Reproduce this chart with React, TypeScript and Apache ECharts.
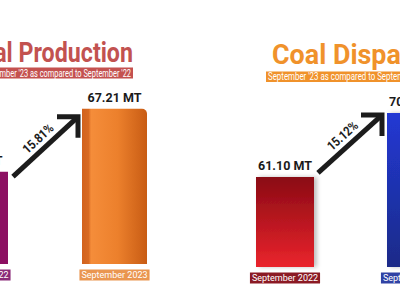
import React, { useEffect, useRef } from "react";
import * as echarts from "echarts";

const categories = ["September 2022", "September 2023"];
const productionValues = [58.04, 67.21];
const dispatchValues = [61.1, 70.34];
const productionGrowth = "15.81%";
const dispatchGrowth = "15.12%";
const productionTitle = "Coal Production";
const dispatchTitle = "Coal Dispatch";
const subtitleText = "September '23 as compared to September '22";

const FONT = "Roboto, 'Liberation Sans', sans-serif";

export default function App() {
  const ref = useRef<HTMLDivElement>(null);
  useEffect(() => {
    document.body.style.margin = "0";
    const chart = echarts.init(ref.current!, null, { renderer: "svg" });

    const labelStyle = (bg: string) => ({
      backgroundColor: bg,
      color: "#ffffff",
      fontSize: 9,
      lineHeight: 10,
      fontFamily: FONT,
      padding: [1, 2, 1, 2],
    });

    const valueLabel = {
      show: true,
      position: "top",
      distance: 5,
      color: "#1a1a1a",
      fontWeight: "bold",
      fontSize: 12.5,
      fontFamily: FONT,
      formatter: (p: any) => Number(p.value).toFixed(2) + " MT",
    };

    const orangeGrad = new echarts.graphic.LinearGradient(0, 0, 1, 0, [
      { offset: 0, color: "#d2621d" },
      { offset: 0.1, color: "#d86a22" },
      { offset: 0.14, color: "#f58d3a" },
      { offset: 0.55, color: "#ec802c" },
      { offset: 1, color: "#c85c14" },
    ]);
    const purpleColor = "#8c1062";
    const redGrad = new echarts.graphic.LinearGradient(0, 0, 0, 1, [
      { offset: 0, color: "#8a0a14" },
      { offset: 1, color: "#ea242c" },
    ]);
    const blueGrad = new echarts.graphic.LinearGradient(0, 0, 0, 1, [
      { offset: 0, color: "#2238d4" },
      { offset: 1, color: "#1b2b88" },
    ]);

    chart.setOption({
      animation: false,
      backgroundColor: "#ffffff",
      grid: [
        { left: -94, width: 278, top: 89.5, bottom: 36, outerBoundsMode: "none", containLabel: false },
        { left: 219.5, width: 262, top: 93.8, bottom: 33, outerBoundsMode: "none", containLabel: false },
      ],
      xAxis: [0, 1].map((gi) => ({
        type: "category",
        gridIndex: gi,
        data: categories,
        axisLine: { show: false },
        axisTick: { show: false },
        axisLabel: {
          interval: 0,
          margin: 6,
          formatter: (v: string, i: number) => `{${gi === 0 ? "p" : "d"}${i}|${v}}`,
          rich: {
            p0: labelStyle("#8a2a78"),
            p1: labelStyle("#ea9650"),
            d0: labelStyle("#8b1a24"),
            d1: labelStyle("#3042a4"),
          },
        },
      })),
      yAxis: [
        { type: "value", gridIndex: 0, min: 44.6, max: 70, show: false },
        { type: "value", gridIndex: 1, min: 48.1, max: 73.1, show: false },
      ],
      series: [
        {
          type: "bar",
          xAxisIndex: 0,
          yAxisIndex: 0,
          barWidth: 65,
          label: valueLabel,
          data: productionValues.map((v, i) => ({
            value: v,
            itemStyle:
              i === 0
                ? { color: purpleColor }
                : { color: orangeGrad, borderRadius: [0, 5, 0, 0] },
          })),
        },
        {
          type: "bar",
          xAxisIndex: 1,
          yAxisIndex: 1,
          barWidth: 58,
          label: valueLabel,
          data: dispatchValues.map((v, i) => ({
            value: v,
            itemStyle: {
              color: i === 0 ? redGrad : blueGrad,
              shadowColor: "rgba(0,0,0,0.25)",
              shadowBlur: 4,
              shadowOffsetX: 3,
            },
          })),
        },
      ],
    });

    const arrow = (
      gi: number,
      values: number[],
      barW: number,
      sOff: number[],
      tOff: number[],
      text: string
    ) => {
      const a = chart.convertToPixel({ xAxisIndex: gi, yAxisIndex: gi }, [0, values[0]]) as number[];
      const b = chart.convertToPixel({ xAxisIndex: gi, yAxisIndex: gi }, [1, values[1]]) as number[];
      const sx = a[0] + barW / 2 + sOff[0];
      const sy = a[1] + sOff[1];
      const tx = b[0] - barW / 2 + tOff[0];
      const ty = b[1] + tOff[1];
      const dx = tx - sx;
      const dy = ty - sy;
      const len = Math.sqrt(dx * dx + dy * dy);
      const nx = dy / len;
      const ny = -dx / len;
      const mx = (sx + tx) / 2 + nx * 11;
      const my = (sy + ty) / 2 + ny * 11;
      return [
        {
          type: "line",
          shape: { x1: sx, y1: sy, x2: tx - 2, y2: ty + 2 },
          style: { stroke: "#1c1c1c", lineWidth: 5 },
        },
        {
          type: "polyline",
          shape: { points: [[tx - 21, ty], [tx, ty], [tx, ty + 21]] },
          style: { stroke: "#1c1c1c", lineWidth: 5, fill: null, lineJoin: "miter" },
        },
        {
          type: "text",
          x: mx,
          y: my,
          rotation: Math.atan2(-dy, dx),
          scaleX: 0.85,
          style: {
            text,
            fill: "#1c1c1c",
            font: `bold 13px ${FONT}`,
            textAlign: "center",
            textVerticalAlign: "middle",
          },
        },
      ];
    };

    chart.setOption({
      graphic: [
        {
          type: "text",
          x: 133,
          y: 53,
          scaleX: 0.86,
          style: {
            text: productionTitle,
            fill: "#c25250",
            font: `bold 27px ${FONT}`,
            textAlign: "right",
            textVerticalAlign: "middle",
          },
        },
        {
          type: "rect",
          shape: { x: -40, y: 67.5, width: 173, height: 11 },
          style: { fill: "#c4514f" },
        },
        {
          type: "text",
          x: 131,
          y: 73.3,
          scaleX: 0.745,
          style: {
            text: subtitleText,
            fill: "#ffffff",
            font: `10px ${FONT}`,
            textAlign: "right",
            textVerticalAlign: "middle",
          },
        },
        {
          type: "text",
          x: 272,
          y: 54.5,
          scaleX: 0.96,
          style: {
            text: dispatchTitle,
            fill: "#f0922b",
            font: `bold 28px ${FONT}`,
            textAlign: "left",
            textVerticalAlign: "middle",
          },
        },
        {
          type: "rect",
          shape: { x: 266, y: 71.5, width: 200, height: 10.5 },
          style: { fill: "#f0922b" },
        },
        {
          type: "text",
          x: 268,
          y: 77,
          scaleX: 0.79,
          style: {
            text: subtitleText,
            fill: "#ffffff",
            font: `10px ${FONT}`,
            textAlign: "left",
            textVerticalAlign: "middle",
          },
        },
        ...arrow(0, productionValues, 65, [5, 5], [-4, 8], productionGrowth),
        ...arrow(1, dispatchValues, 58, [4, -4], [-5, 2], dispatchGrowth),
      ],
    });

    return () => chart.dispose();
  }, []);
  return (
    <div
      ref={ref}
      style={{ position: "absolute", left: 0, top: 0, width: 400, height: 300 }}
    />
  );
}
